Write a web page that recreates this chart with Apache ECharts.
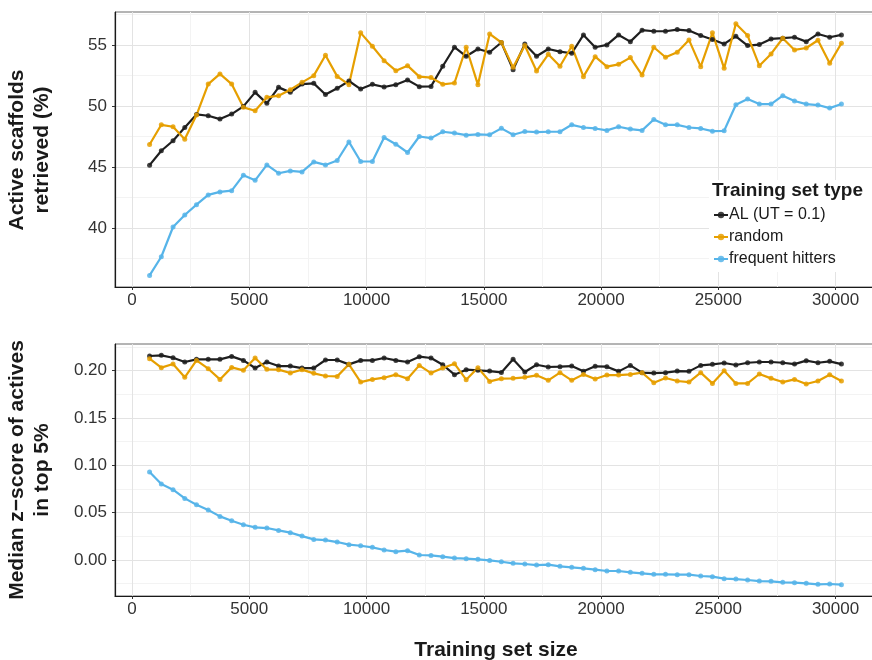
<!DOCTYPE html>
<html>
<head>
<meta charset="utf-8">
<script src="https://cdn.jsdelivr.net/npm/echarts@6/dist/echarts.min.js"></script>
<style>
  html, body { margin: 0; padding: 0; background: #fff; }
  #main { width: 872px; height: 660px; }
</style>
</head>
<body>
<div id="main"></div>
<script>
// 训练集大小（横轴）
const trainSizes = [750, 1250, 1750, 2250, 2750, 3250, 3750, 4250, 4750, 5250,
    5750, 6250, 6750, 7250, 7750, 8250, 8750, 9250, 9750, 10250,
    10750, 11250, 11750, 12250, 12750, 13250, 13750, 14250, 14750, 15250,
    15750, 16250, 16750, 17250, 17750, 18250, 18750, 19250, 19750, 20250,
    20750, 21250, 21750, 22250, 22750, 23250, 23750, 24250, 24750, 25250,
    25750, 26250, 26750, 27250, 27750, 28250, 28750, 29250, 29750, 30250];

const seriesNames = ['AL (UT = 0.1)', 'random', 'frequent hitters'];

// 上图：检索到的活性骨架 (%)
const alScaffolds = [45.14, 46.32, 47.14, 48.23, 49.30, 49.19, 48.92, 49.33, 49.96, 51.11,
    50.21, 51.52, 51.11, 51.79, 51.85, 50.93, 51.44, 52.04, 51.38, 51.77,
    51.55, 51.74, 52.12, 51.58, 51.60, 53.25, 54.81, 54.07, 54.67, 54.40,
    55.20, 52.97, 55.08, 54.07, 54.67, 54.45, 54.32, 55.82, 54.81, 55.00,
    55.82, 55.27, 56.21, 56.12, 56.12, 56.26, 56.18, 55.77, 55.44, 55.08,
    55.71, 54.95, 55.03, 55.49, 55.55, 55.63, 55.27, 55.90, 55.63, 55.82];
const randomScaffolds = [46.84, 48.45, 48.29, 47.27, 49.25, 51.79, 52.62, 51.79, 49.88, 49.60,
    50.70, 50.84, 51.33, 51.93, 52.48, 54.15, 52.42, 51.74, 55.99, 54.89,
    53.71, 52.89, 53.30, 52.40, 52.32, 51.77, 51.88, 54.81, 51.74, 55.90,
    55.20, 53.16, 54.95, 52.86, 54.23, 53.25, 54.89, 52.40, 54.04, 53.22,
    53.41, 53.96, 52.53, 54.81, 53.99, 54.40, 55.41, 53.22, 55.99, 53.08,
    56.73, 55.77, 53.30, 54.26, 55.55, 54.59, 54.75, 55.38, 53.49, 55.14];
const fhScaffolds = [36.10, 37.63, 40.07, 41.05, 41.90, 42.70, 42.95, 43.05, 44.32, 43.90,
    45.16, 44.48, 44.67, 44.59, 45.41, 45.16, 45.52, 47.05, 45.44, 45.44,
    47.41, 46.86, 46.18, 47.49, 47.36, 47.88, 47.77, 47.60, 47.66, 47.63,
    48.16, 47.63, 47.90, 47.85, 47.88, 47.88, 48.45, 48.23, 48.15, 47.99,
    48.29, 48.10, 47.99, 48.89, 48.45, 48.45, 48.23, 48.15, 47.93, 47.96,
    50.10, 50.56, 50.15, 50.15, 50.84, 50.40, 50.15, 50.07, 49.82, 50.15];

// 下图：前5%中活性分子的 z-score 中位数
const alZscore = [0.2155, 0.2162, 0.2137, 0.2092, 0.2120, 0.2120, 0.2120, 0.2151, 0.2109, 0.2028,
    0.2092, 0.2049, 0.2049, 0.2028, 0.2028, 0.2113, 0.2113, 0.2067, 0.2109, 0.2109,
    0.2134, 0.2109, 0.2092, 0.2148, 0.2134, 0.2063, 0.1958, 0.2011, 0.2004, 0.1996,
    0.1982, 0.2120, 0.1986, 0.2063, 0.2039, 0.2042, 0.2049, 0.1993, 0.2046, 0.2042,
    0.1993, 0.2056, 0.1979, 0.1975, 0.1979, 0.1996, 0.1993, 0.2056, 0.2067, 0.2081,
    0.2060, 0.2084, 0.2092, 0.2092, 0.2084, 0.2070, 0.2106, 0.2084, 0.2099, 0.2070];
const randomZscore = [0.2127, 0.2032, 0.2070, 0.1930, 0.2109, 0.2021, 0.1908, 0.2035, 0.2004, 0.2134,
    0.2014, 0.2011, 0.1975, 0.2011, 0.1972, 0.1944, 0.1940, 0.2067, 0.1880, 0.1908,
    0.1926, 0.1958, 0.1916, 0.2056, 0.1975, 0.2028, 0.2074, 0.1905, 0.2032, 0.1887,
    0.1916, 0.1919, 0.1930, 0.1951, 0.1898, 0.1979, 0.1898, 0.1961, 0.1912, 0.1954,
    0.1954, 0.1961, 0.1979, 0.1873, 0.1923, 0.1891, 0.1880, 0.1979, 0.1866, 0.2000,
    0.1866, 0.1866, 0.1965, 0.1919, 0.1880, 0.1908, 0.1859, 0.1891, 0.1958, 0.1891];
const fhZscore = [0.0929, 0.0803, 0.0743, 0.0651, 0.0584, 0.0528, 0.0461, 0.0415, 0.0373, 0.0345,
    0.0338, 0.0313, 0.0289, 0.0253, 0.0218, 0.0211, 0.0190, 0.0162, 0.0151, 0.0134,
    0.0106, 0.0088, 0.0099, 0.0053, 0.0049, 0.0035, 0.0021, 0.0014, 0.0007, -0.0004,
    -0.0018, -0.0035, -0.0042, -0.0053, -0.0049, -0.0067, -0.0077, -0.0088, -0.0102, -0.0116,
    -0.0116, -0.0130, -0.0141, -0.0151, -0.0151, -0.0155, -0.0155, -0.0169, -0.0176, -0.0197,
    -0.0201, -0.0211, -0.0222, -0.0225, -0.0236, -0.0239, -0.0246, -0.0257, -0.0253, -0.0260];

// 刻度
const xTicks = [0, 5000, 10000, 15000, 20000, 25000, 30000];
const xMinorTicks = [2500, 7500, 12500, 17500, 22500, 27500];
const topYTicks = [40, 45, 50, 55];
const topYMinorTicks = [37.5, 42.5, 47.5, 52.5, 57.5];
const botYTicks = [0.00, 0.05, 0.10, 0.15, 0.20];
const botYMinorTicks = [-0.025, 0.025, 0.075, 0.125, 0.175, 0.225];

const colors = ['#1f1f1f', '#E69F00', '#56B4E9'];
const FONT = "'Liberation Sans', Arial, Helvetica, sans-serif";

const chart = echarts.init(document.getElementById('main'), null, { renderer: 'canvas' });

/**
 * 主轴（刻度、标签、主网格线）
 */
function mainAxis(gridIndex, min, max, ticks, formatter, isY) {
    return {
        type: 'value',
        gridIndex: gridIndex,
        position: isY ? 'left' : 'bottom',
        min: min,
        max: max,
        axisLine: { show: true, onZero: false, lineStyle: { color: '#1a1a1a', width: 1.2 } },
        axisTick: { show: true, length: 3, customValues: ticks, lineStyle: { color: '#333' } },
        axisLabel: {
            customValues: ticks,
            formatter: formatter,
            color: '#333',
            fontSize: 17,
            fontFamily: FONT,
            margin: isY ? 8 : 5
        },
        splitLine: { show: true, lineStyle: { color: '#e3e3e3', width: 1 } }
    };
}

/**
 * 次网格线轴（只画细网格线）
 */
function minorAxis(gridIndex, min, max, ticks, isY) {
    return {
        type: 'value',
        gridIndex: gridIndex,
        position: isY ? 'left' : 'bottom',
        min: min,
        max: max,
        axisLine: { show: false },
        axisTick: { show: false, customValues: ticks },
        axisLabel: { show: false, customValues: ticks },
        splitLine: { show: true, lineStyle: { color: '#f3f3f3', width: 1 } }
    };
}

const xFmt = v => String(v);
const X_MIN = -725, X_MAX = 31725;

function makeSeries(name, data, color, xIdx, yIdx) {
    return {
        name: name,
        type: 'line',
        xAxisIndex: xIdx,
        yAxisIndex: yIdx,
        data: trainSizes.map((x, i) => [x, data[i]]),
        symbol: 'circle',
        symbolSize: 5,
        showSymbol: true,
        itemStyle: { color: color, opacity: 0.85 },
        lineStyle: { color: color, width: 2.2 },
        emphasis: { disabled: true },
        animation: false
    };
}

const gridBase = { left: 115, width: 761, show: true, borderColor: '#6a6a6a', borderWidth: 1,
    containLabel: false, outerBoundsMode: 'none' };

const option = {
    backgroundColor: '#fff',
    animation: false,
    grid: [
        Object.assign({ top: 12, height: 275 }, gridBase),
        Object.assign({ top: 344, height: 252 }, gridBase)
    ],
    xAxis: [
        minorAxis(0, X_MIN, X_MAX, xMinorTicks, false),
        mainAxis(0, X_MIN, X_MAX, xTicks, xFmt, false),
        minorAxis(1, X_MIN, X_MAX, xMinorTicks, false),
        mainAxis(1, X_MIN, X_MAX, xTicks, xFmt, false)
    ],
    yAxis: [
        minorAxis(0, 35.15, 57.7, topYMinorTicks, true),
        mainAxis(0, 35.15, 57.7, topYTicks, v => String(v), true),
        minorAxis(1, -0.038, 0.2282, botYMinorTicks, true),
        mainAxis(1, -0.038, 0.2282, botYTicks, v => v.toFixed(2), true)
    ],
    legend: {
        data: seriesNames,
        orient: 'vertical',
        left: 713,
        top: 206,
        padding: 0,
        z: 10,
        itemWidth: 14,
        itemHeight: 8,
        itemGap: 4,
        textStyle: { fontSize: 16, fontFamily: FONT, color: '#1a1a1a', lineHeight: 18, padding: [0, 0, 0, -4] },
        selectedMode: false
    },
    series: [
        makeSeries(seriesNames[0], alScaffolds, colors[0], 1, 1),
        makeSeries(seriesNames[1], randomScaffolds, colors[1], 1, 1),
        makeSeries(seriesNames[2], fhScaffolds, colors[2], 1, 1),
        makeSeries(seriesNames[0], alZscore, colors[0], 3, 3),
        makeSeries(seriesNames[1], randomZscore, colors[1], 3, 3),
        makeSeries(seriesNames[2], fhZscore, colors[2], 3, 3)
    ],
    graphic: [
        {
            // 图例白色背景，遮住网格线
            type: 'rect', z: 3,
            shape: { x: 709, y: 180, width: 170, height: 92 },
            style: { fill: '#fff' }
        },
        {
            type: 'text', x: 712, y: 191, z: 11,
            style: { text: 'Training set type', font: 'bold 19px ' + FONT, fill: '#1a1a1a', verticalAlign: 'middle' }
        },
        {
            type: 'text', x: 496, y: 650,
            style: { text: 'Training set size', font: 'bold 21px ' + FONT, fill: '#1a1a1a', align: 'center', verticalAlign: 'middle' }
        },
        {
            type: 'text', x: 30, y: 150, rotation: Math.PI / 2,
            style: { text: 'Active scaffolds\nretrieved (%)', font: 'bold 21px ' + FONT, fill: '#1a1a1a', align: 'center', verticalAlign: 'middle', lineHeight: 25 }
        },
        {
            type: 'text', x: 30, y: 470, rotation: Math.PI / 2,
            style: { text: 'Median z\u2212score of actives\nin top 5%', font: 'bold 21px ' + FONT, fill: '#1a1a1a', align: 'center', verticalAlign: 'middle', lineHeight: 25 }
        }
    ]
};

chart.setOption(option);
</script>
</body>
</html>
